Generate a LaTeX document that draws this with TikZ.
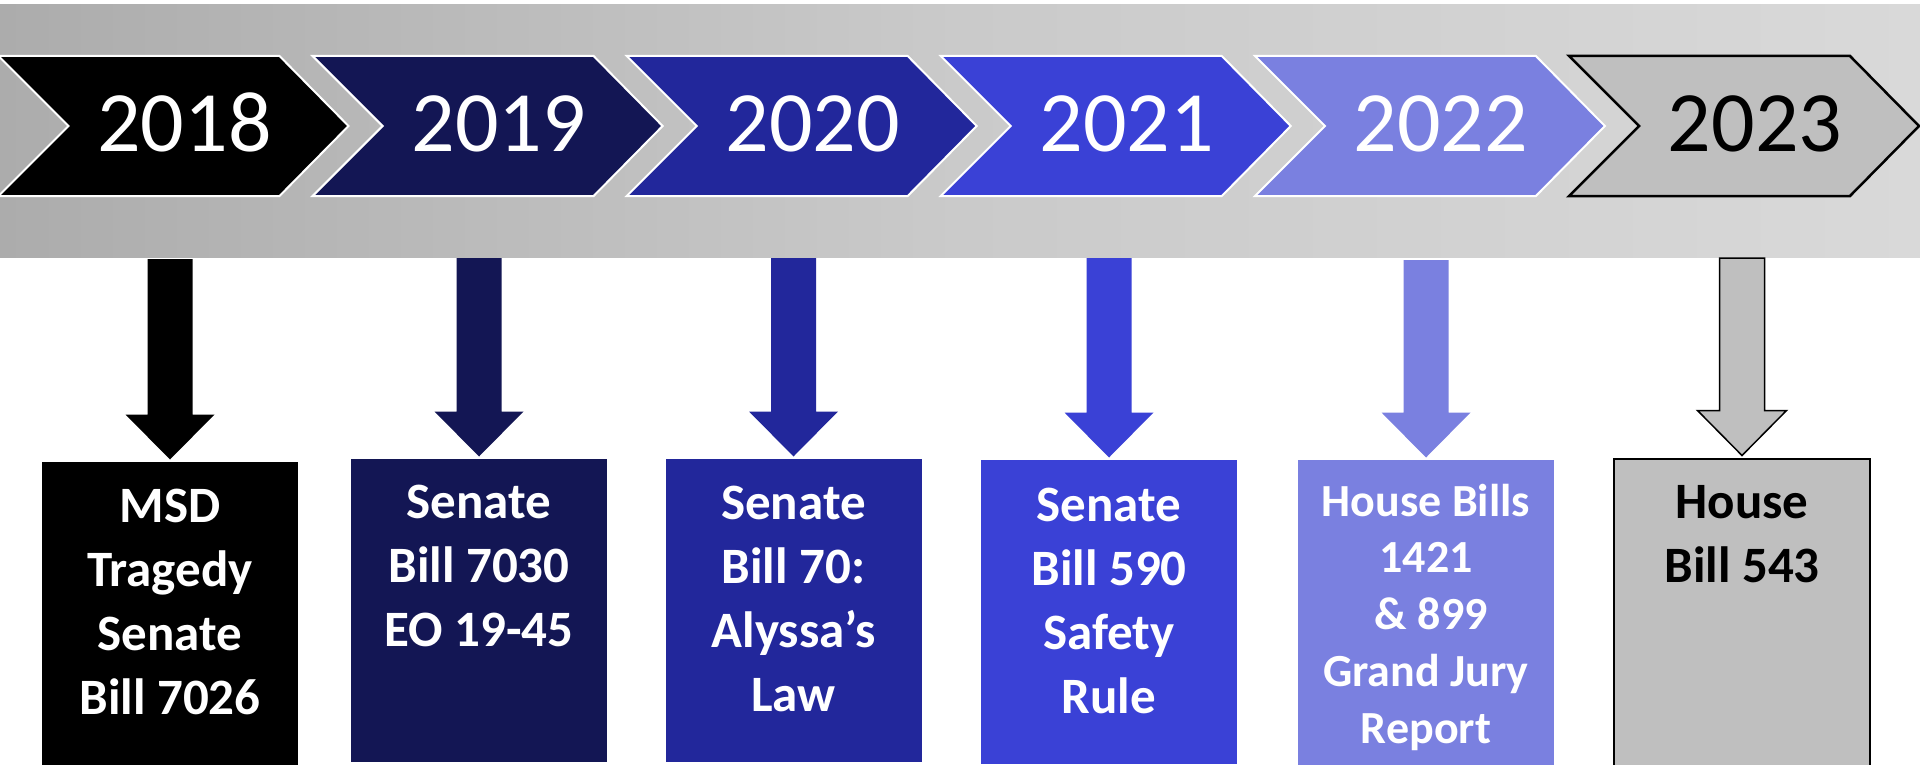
\documentclass[tikz,border=0pt]{standalone}
\usepackage{fontspec}
\setmainfont{Carlito}
\usetikzlibrary{calc}
\definecolor{cA}{HTML}{000000}
\definecolor{cB}{HTML}{131654}
\definecolor{cC}{HTML}{22279B}
\definecolor{cD}{HTML}{3A41D6}
\definecolor{cE}{HTML}{7A80E0}
\definecolor{cF}{HTML}{BFBFBF}
\definecolor{bandL}{HTML}{ACACAC}
\definecolor{bandM}{HTML}{CACACA}
\definecolor{bandR}{HTML}{D9D9D9}
\pgfdeclarehorizontalshading{bandshade}{100bp}{color(0bp)=(bandL); color(25bp)=(bandL); color(50bp)=(bandM); color(75bp)=(bandR); color(100bp)=(bandR)}
\newcommand\blockdown[3]{%
  \path[#3] ($(#1)+(-22.5,0)$) -- ($(#1)+(22.5,0)$) -- ($(#2.north)+(22.5,-47.5)$)
    -- ($(#2.north)+(44.5,-47.5)$) -- ($(#2.north)+(0,-2.5)$) -- ($(#2.north)+(-44.5,-47.5)$)
    -- ($(#2.north)+(-22.5,-47.5)$) -- cycle;}
\newcommand\chevron[2]{%
  \path[#2] (#1,56) -- ++(281,0) -- ++(69,70) -- ++(-69,70) -- ++(-281,0) -- ++(70,-70) -- cycle;}
\begin{document}
\begin{tikzpicture}[x=1pt,y=-1pt,
  yearlbl/.style={font=\fontsize{86}{100}\selectfont, inner sep=0pt, anchor=base, text=white},
  boxnode/.style={minimum width=256pt, inner sep=0pt, anchor=north},
  boxtext/.style={font=\bfseries\fontsize{51}{64}\selectfont, align=center, inner sep=0pt, anchor=north, text=white},
  chev/.style={draw=white, line width=2pt, line join=miter},
]
\useasboundingbox (0,0) rectangle (1920,765);
\fill[white] (0,0) rectangle (1920,765);
% band
\shade[shading=bandshade] (0,5) rectangle (1920,257);
% chevrons
\chevron{-1.5}{chev, fill=cA}
\chevron{312.6}{chev, fill=cB}
\chevron{626.7}{chev, fill=cC}
\chevron{940.8}{chev, fill=cD}
\chevron{1254.9}{chev, fill=cE}
\chevron{1569.0}{draw=black, line width=2.5pt, fill=cF}
\node[yearlbl] (y1) at (184.5,152) {2018};
\node[yearlbl] (y2) at (498.6,152) {2019};
\node[yearlbl] (y3) at (812.7,152) {2020};
\node[yearlbl] (y4) at (1126.8,152) {2021};
\node[yearlbl] (y5) at (1440.9,152) {2022};
\node[yearlbl, text=black] (y6) at (1755,152) {2023};
% boxes
\node[boxnode, fill=cA, minimum height=306pt] (b1) at (170,462) {};
\node[boxnode, fill=cB, minimum height=303pt] (b2) at (479,459) {};
\node[boxnode, fill=cC, minimum height=303pt] (b3) at (793.5,459) {};
\node[boxnode, fill=cD, minimum height=304pt] (b4) at (1109,460) {};
\node[boxnode, fill=cE, minimum height=306pt] (b5) at (1426,460) {};
\node[boxnode, fill=cF, draw=black, line width=1.5pt, minimum height=310pt] (b6) at (1742,458) {};
% arrow tops
\coordinate (a1) at (b1.north |- 0,259);
\coordinate (a2) at (b2.north |- 0,258);
\coordinate (a3) at (b3.north |- 0,258);
\coordinate (a4) at (b4.north |- 0,258);
\coordinate (a5) at (b5.north |- 0,260);
\coordinate (a6) at (b6.north |- 0,258);
\blockdown{a1}{b1}{fill=cA}
\blockdown{a2}{b2}{fill=cB}
\blockdown{a3}{b3}{fill=cC}
\blockdown{a4}{b4}{fill=cD}
\blockdown{a5}{b5}{fill=cE}
\blockdown{a6}{b6}{fill=cF, draw=black, line width=1.5pt}
% box texts
\node[boxtext] (t1) at ($(b1.north)+(0,20)$) {\rule{0pt}{40pt}MSD\\Tragedy\\Senate\\Bill 7026};
\node[boxtext] (t2) at ($(b2.north)+(0,19)$) {\rule{0pt}{40pt}Senate\\Bill 7030\\EO 19-45};
\node[boxtext] (t3) at ($(b3.north)+(0,20)$) {\rule{0pt}{40pt}Senate\\Bill 70:\\Alyssa’s\\Law};
\node[boxtext] (t4) at ($(b4.north)+(0,21)$) {\rule{0pt}{40pt}Senate\\Bill 590\\Safety\\Rule};
\node[boxtext, font=\bfseries\fontsize{46}{56.75}\selectfont] (t5) at ($(b5.north)+(0,16)$) {\rule{0pt}{40pt}House Bills\\1421\\\hspace*{0.23em}\& 899\\Grand Jury\\Report};
\node[boxtext, text=black] (t6) at ($(b6.north)+(0,20)$) {\rule{0pt}{40pt}House\\Bill 543};
\end{tikzpicture}
\end{document}
